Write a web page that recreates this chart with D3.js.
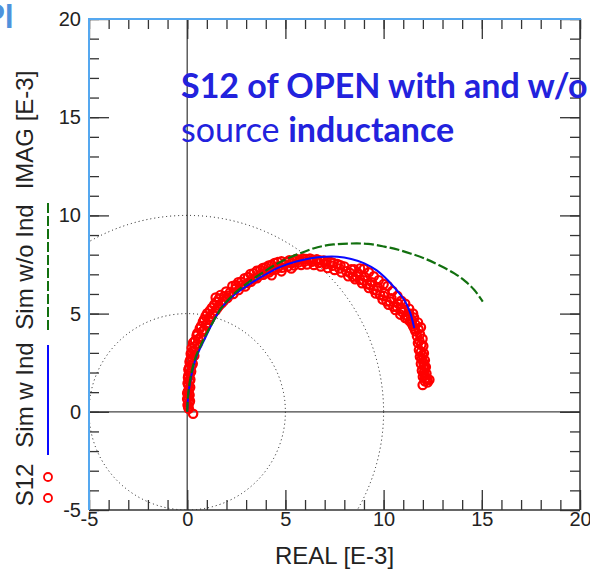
<!DOCTYPE html>
<html>
<head>
<meta charset="utf-8">
<title>S12 of OPEN</title>
<style>
  body { margin: 0; background: #fff; }
  svg { display: block; }
  .axis text { font-family: "Liberation Sans", Arial, sans-serif; font-size: 20px; fill: #222; }
  .axis line { stroke: #333; stroke-width: 1.3; }
  .axis path { display: none; }
</style>
</head>
<body>
<div id="chart"></div>

<script src="https://d3js.org/d3.v7.min.js"></script>
<script>
// ticks (both axes in E-3)
var majorTicks = [-5, 0, 5, 10, 15, 20];
var minorTicks = d3.range(-5, 21);
// dotted reference circles, radius in E-3
var refRadii = [5, 10];

var s12 = [
  [0.30,-0.10],[0.05,0.25],[0.10,0.45],[0.00,0.65],[0.12,0.85],[0.04,1.05],[0.15,1.25],[0.02,1.45],
  [0.16,1.65],[0.06,1.85],[0.20,2.05],[0.10,2.25],[0.28,2.45],[0.16,2.65],[0.36,2.85],[0.24,3.05],
  [0.23,3.25],[0.52,3.45],[0.40,3.62],[0.68,3.80],[0.52,4.00],[0.86,4.18],[0.70,4.36],[1.00,4.50],
  [0.86,4.70],[1.16,4.84],[1.02,5.02],[1.44,5.14],[1.26,5.30],[1.62,5.40],[1.50,5.60],[1.86,5.64],
  [1.70,5.95],[2.05,5.80],[1.98,6.12],[2.35,6.00],[2.30,6.40],[2.62,6.20],[2.60,6.60],[2.95,6.38],
  [2.92,6.80],[3.25,6.62],[3.22,7.02],[3.55,6.80],[3.55,7.18],[3.88,6.98],[3.85,7.32],[4.18,7.10],
  [4.15,7.45],[4.50,7.25],[4.45,7.58],[4.82,7.34],[4.80,7.66],
  [5.12,7.40],[5.20,7.72],[5.45,7.45],[5.55,7.78],[5.80,7.48],[5.90,7.80],[6.10,7.50],[6.25,7.80],
  [6.45,7.48],[6.60,7.76],[6.80,7.40],[6.95,7.70],[7.15,7.32],[7.30,7.62],[7.50,7.22],[7.65,7.52],
  [7.85,7.10],[8.00,7.40],
  [8.20,6.90],[8.35,7.25],[8.55,6.75],[8.70,7.05],[8.90,6.55],[9.05,6.85],[9.25,6.30],[9.40,6.60],
  [9.60,6.02],[9.70,6.35],[9.95,5.72],[10.05,6.05],[10.25,5.45],[10.40,5.78],[10.60,5.18],[10.75,5.50],
  [10.85,4.95],[11.05,5.20],[11.10,4.78],[11.30,5.00],[11.35,4.60],[11.55,4.80],[11.50,4.35],[11.75,4.55],
  [11.62,4.10],[11.90,4.30],
  [11.70,3.85],[11.98,3.72],[11.75,3.50],[12.02,3.35],[11.80,3.15],[12.05,2.98],[11.85,2.80],[12.10,2.62],
  [11.90,2.45],[12.15,2.28],[11.95,2.10],[12.18,1.95],[12.00,1.78],[12.22,1.65],[12.33,1.63],[12.25,1.50],
  [11.99,1.37],
  [0.08,0.15],[0.02,0.35],[0.14,0.55],[0.06,0.75],[0.00,0.95],[0.10,1.15],[0.06,1.35],[0.12,1.55],
  [0.04,1.75],[0.14,1.95],[0.06,2.15],[0.22,2.35],[0.12,2.55],[0.26,2.75],[0.18,2.95],[0.36,3.12],
  [0.38,3.32],[0.30,3.52],[0.56,3.70],[0.48,3.88],[0.76,4.08],[0.64,4.24],[0.96,4.42],[0.80,4.58],
  [1.12,4.68],[0.94,4.88],[1.30,4.98],[1.16,5.16],[1.54,5.28],[1.38,5.46],[1.74,5.52],[1.62,5.76],
  [1.88,5.88],[2.18,6.08],[2.12,5.92],[2.45,6.26],[2.48,6.45],[2.78,6.44],[2.75,6.62],[3.08,6.56],
  [3.10,6.86],[3.40,6.78],[3.38,7.05],[3.70,6.95],[3.72,7.22],[4.02,7.08],[4.00,7.36],[4.32,7.22],
  [4.30,7.48],[4.65,7.38],[4.62,7.62],[4.95,7.50],
  [5.05,7.62],[5.32,7.58],[5.38,7.70],[5.68,7.62],[5.72,7.74],[6.00,7.66],[6.05,7.78],[6.35,7.64],
  [6.40,7.74],[6.70,7.58],[6.78,7.70],[7.05,7.52],[7.10,7.64],[7.40,7.44],[7.45,7.58],[7.75,7.30],
  [7.80,7.46],[8.10,7.16],
  [8.28,7.08],[8.45,6.88],[8.62,6.92],[8.80,6.72],[8.98,6.70],[9.15,6.50],[9.32,6.46],[9.50,6.22],
  [9.65,6.18],[9.82,5.95],[10.00,5.90],[10.15,5.62],[10.32,5.62],[10.50,5.35],[10.68,5.34],[10.90,5.22],
  [10.95,5.08],[11.18,4.92],[11.22,4.72],[11.42,4.70],[11.45,4.48],[11.62,4.45],[11.58,4.22],[11.78,4.20],
  [11.85,3.95],[11.82,3.62],[11.92,3.42],[11.90,3.05],[11.98,2.88],[11.95,2.70],[12.02,2.52],[12.05,2.36],
  [12.08,2.18],[12.06,2.00],[12.10,1.85],[12.12,1.70],[12.10,1.55],
  [1.45,5.82],[4.30,6.95],[4.80,7.15],[5.30,7.30],
  [8.50,7.25],[8.80,7.30],[9.00,7.28],[9.25,7.10],[9.50,6.90],[9.75,6.70],[10.00,6.50],[10.20,6.40],
  [10.45,6.15],[10.70,5.90],[10.90,5.65],[11.10,5.50],[11.30,5.25],[11.50,5.00]
];

// simulation with source inductance
var simWInd = [
  [0.00,0.00],[0.05,0.80],[0.20,1.80],[0.45,2.75],[0.87,3.66],[1.30,4.55],[1.75,5.30],[2.45,6.00],
  [3.25,6.55],[4.00,7.00],[4.78,7.39],[5.55,7.65],[6.30,7.82],[7.00,7.90],[7.66,7.90],[8.35,7.78],
  [9.02,7.56],[9.65,7.20],[10.20,6.71],[10.70,6.15],[11.05,5.70],[11.35,5.05],[11.56,4.26]
];

// simulation without source inductance
var simWoInd = [
  [0.00,0.00],[0.04,0.80],[0.18,1.80],[0.42,2.75],[0.84,3.70],[1.30,4.55],[1.75,5.30],[2.40,6.02],
  [3.15,6.62],[3.93,7.14],[4.60,7.55],[5.28,7.88],[5.97,8.15],[6.64,8.38],[7.45,8.52],[8.34,8.57],
  [9.20,8.55],[10.04,8.41],[10.75,8.25],[11.40,8.05],[12.10,7.80],[12.75,7.50],[13.60,7.05],
  [14.15,6.65],[14.62,6.20],[15.05,5.61]
];

var svgWidth = 590, svgHeight = 573;
var plotL = 89, plotR = 580, plotT = 19, plotB = 510;

var svg = d3.select("#chart").append("svg")
    .attr("width", svgWidth)
    .attr("height", svgHeight);

var x = d3.scaleLinear().domain([-5, 20]).range([plotL, plotR]);
var y = d3.scaleLinear().domain([-5, 20]).range([plotB, plotT]);

svg.append("clipPath").attr("id", "plotClip")
  .append("rect")
    .attr("x", plotL).attr("y", plotT)
    .attr("width", plotR - plotL).attr("height", plotB - plotT);

// zero lines
svg.append("line")
    .attr("x1", x(0)).attr("x2", x(0)).attr("y1", plotT).attr("y2", plotB)
    .style("stroke", "#444").style("stroke-width", 1.3);
svg.append("line")
    .attr("x1", plotL).attr("x2", plotR).attr("y1", y(0)).attr("y2", y(0))
    .style("stroke", "#444").style("stroke-width", 1.3);

// dotted circles
svg.append("g").attr("clip-path", "url(#plotClip)")
  .selectAll("circle").data(refRadii).enter().append("circle")
    .attr("cx", x(0)).attr("cy", y(0))
    .attr("r", function(d) { return x(d) - x(0); })
    .style("fill", "none")
    .style("stroke", "#111")
    .style("stroke-width", 1)
    .style("stroke-dasharray", "1,3");

// ticks, all pointing inward
var plain = function(d) { return String(d); };   // keep "-5" with a hyphen
function addAxis(axis, tx, ty, size, labels) {
  var g = svg.append("g").attr("class", "axis")
      .attr("transform", "translate(" + tx + "," + ty + ")")
      .call(axis.tickSize(-size));
  if (!labels) g.selectAll("text").remove();
  return g;
}
addAxis(d3.axisBottom(x).tickValues(minorTicks).tickFormat(""), 0, plotB, 10, false);
addAxis(d3.axisBottom(x).tickValues(majorTicks).tickFormat(plain).tickPadding(2), 0, plotB, 20, true);
addAxis(d3.axisTop(x).tickValues(minorTicks).tickFormat(""), 0, plotT, 10, false);
addAxis(d3.axisTop(x).tickValues(majorTicks), 0, plotT, 20, false);
addAxis(d3.axisLeft(y).tickValues(minorTicks).tickFormat(""), plotL, 0, 10, false);
addAxis(d3.axisLeft(y).tickValues(majorTicks).tickFormat(plain).tickPadding(8), plotL, 0, 20, true);
addAxis(d3.axisRight(y).tickValues(minorTicks).tickFormat(""), plotR, 0, 10, false);
addAxis(d3.axisRight(y).tickValues(majorTicks), plotR, 0, 20, false);

// frame: right & bottom dark, left & top light blue
svg.append("line").attr("x1", plotR).attr("x2", plotR).attr("y1", plotT).attr("y2", plotB)
    .style("stroke", "#333").style("stroke-width", 1.5);
svg.append("line").attr("x1", plotL).attr("x2", plotR).attr("y1", plotB).attr("y2", plotB)
    .style("stroke", "#333").style("stroke-width", 1.5);
svg.append("line").attr("x1", plotL).attr("x2", plotL).attr("y1", plotT - 1).attr("y2", plotB)
    .style("stroke", "#55a8f0").style("stroke-width", 2);
svg.append("line").attr("x1", plotL - 1).attr("x2", plotR + 1).attr("y1", plotT).attr("y2", plotT)
    .style("stroke", "#55a8f0").style("stroke-width", 2);

// measured points
svg.append("g").selectAll("circle").data(s12).enter().append("circle")
    .attr("cx", function(d) { return x(d[0]); })
    .attr("cy", function(d) { return y(d[1]); })
    .attr("r", 4.2)
    .style("fill", "none")
    .style("stroke", "#ff0000")
    .style("stroke-width", 2.2);

var line = d3.line()
    .x(function(d) { return x(d[0]); })
    .y(function(d) { return y(d[1]); })
    .curve(d3.curveCatmullRom.alpha(0.5));

svg.append("path").datum(simWInd)
    .attr("d", line)
    .style("fill", "none")
    .style("stroke", "#0a0aff")
    .style("stroke-width", 2);

svg.append("path").datum(simWoInd)
    .attr("d", line)
    .style("fill", "none")
    .style("stroke", "#12700f")
    .style("stroke-width", 2.2)
    .style("stroke-dasharray", "10,3");

// axis titles
var labelFont = '"Liberation Sans", Arial, sans-serif';
svg.append("text")
    .attr("x", (plotL + plotR) / 2).attr("y", 564)
    .attr("text-anchor", "middle")
    .style("font-family", labelFont).style("font-size", "24px").style("fill", "#222")
    .text("REAL [E-3]");

// rotated legend column on the left
var legendItems = [
  { label: "IMAG [E-3]", cy: 130 },
  { label: "Sim w/o Ind", cy: 267 },
  { label: "Sim w Ind", cy: 395 },
  { label: "S12", cy: 485 }
];
svg.append("g").selectAll("text").data(legendItems).enter().append("text")
    .attr("transform", function(d) { return "translate(33," + d.cy + ") rotate(-90)"; })
    .attr("text-anchor", "middle")
    .style("font-family", labelFont).style("font-size", "24px").style("fill", "#222")
    .text(function(d) { return d.label; });

svg.append("line").attr("x1", 48).attr("x2", 48).attr("y1", 203).attr("y2", 333)
    .style("stroke", "#12700f").style("stroke-width", 2).style("stroke-dasharray", "10,3");
svg.append("line").attr("x1", 48).attr("x2", 48).attr("y1", 345).attr("y2", 455)
    .style("stroke", "#0a0aff").style("stroke-width", 2);
svg.selectAll(".legendDot").data([477, 498]).enter().append("circle")
    .attr("class", "legendDot")
    .attr("cx", 48).attr("cy", function(d) { return d; })
    .attr("r", 4)
    .style("fill", "none").style("stroke", "#ff0000").style("stroke-width", 1.8);

// slide title overlaid on the plot
var title = svg.append("g")
    .style("font-family", "Lato, 'Open Sans', sans-serif")
    .style("fill", "#2222dd");
title.append("text").attr("x", 181).attr("y", 98)
    .style("font-size", "34px").style("font-weight", "bold")
    .text("S12 of OPEN with and w/o");
var t2 = title.append("text").attr("x", 181).attr("y", 142).style("font-size", "34px");
t2.append("tspan").text("source ");
t2.append("tspan").style("font-weight", "bold").text("inductance");

// clipped slide heading at top-left
svg.append("text").attr("x", 14).attr("y", 28)
    .attr("text-anchor", "end")
    .style("font-family", "Lato, sans-serif").style("font-weight", "bold")
    .style("font-size", "32px").style("fill", "#4f92dc")
    .text("PI");
</script>
</body>
</html>
